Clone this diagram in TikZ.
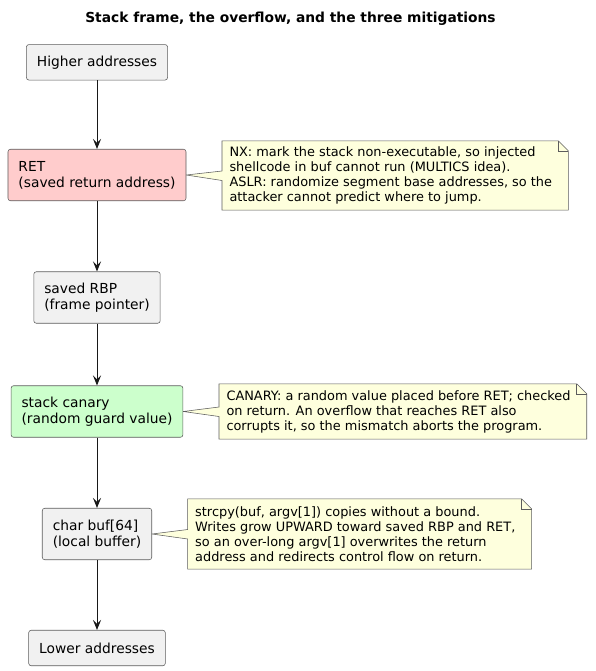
\documentclass[tikz,border=0pt]{standalone}
\usepackage{fontspec}
\setmainfont{DejaVu Sans}
\usetikzlibrary{arrows.meta,calc}
\definecolor{boxfill}{HTML}{F1F1F1}
\definecolor{lineclr}{HTML}{181818}
\definecolor{frameclr}{HTML}{5C5C5C}
\definecolor{retfill}{HTML}{FFCCCC}
\definecolor{canfill}{HTML}{CCFFCC}
\definecolor{notefill}{HTML}{FEFFDD}
\pgfdeclarelayer{background}
\pgfsetlayers{background,main}
\tikzset{
 stackbox/.style={draw=frameclr, line width=0.55pt, rounded corners=2.5pt, fill=boxfill, align=left, inner xsep=10.5pt, inner ysep=0pt, font=\fontsize{13.8}{16}\selectfont},
 onel/.style={minimum height=35.5pt},
 twol/.style={minimum height=51.5pt},
 flow/.style={draw=lineclr, line width=0.9pt, -{Stealth[length=10pt,width=8pt,inset=4pt]}},
 notetext/.style={align=left, inner sep=0pt, anchor=west, font=\fontsize{12.9}{15}\selectfont},
 noteframe/.style={draw=frameclr, line width=0.55pt, fill=notefill, line join=miter},
 foldline/.style={draw=frameclr, line width=0.55pt},
}
\begin{document}
\begin{tikzpicture}[x=1pt,y=-1pt]
\useasboundingbox (0,0) rectangle (595,671);

\node[anchor=base, font=\fontsize{13.8}{16}\selectfont\bfseries] (title) at (290.5,22.7) {Stack frame, the overflow, and the three mitigations};

\node[stackbox, onel] (hi) at (97,62.3) {Higher addresses};
\node[stackbox, twol, fill=retfill] (ret) at (97,175) {RET\\(saved return address)};
\node[stackbox, twol] (rbp) at (97,297.5) {saved RBP\\(frame pointer)};
\node[stackbox, twol, fill=canfill] (can) at (97,411.5) {stack canary\\(random guard value)};
\node[stackbox, twol] (buf) at (97,534) {char buf[64]\\(local buffer)};
\node[stackbox, onel] (lo) at (97,648) {Lower addresses};

\draw[flow] (hi.south) -- (ret.north);
\draw[flow] (ret.south) -- (rbp.north);
\draw[flow] (rbp.south) -- (can.north);
\draw[flow] (can.south) -- (buf.north);
\draw[flow] (buf.south) -- (lo.north);

% note 1
\node[notetext, minimum height=69pt] (nx) at (229.3,175.5) {NX: mark the stack non-executable, so injected\\shellcode in buf cannot run (MULTICS idea).\\ASLR: randomize segment base addresses, so the\\attacker cannot predict where to jump.};
% note 2
\node[notetext, minimum height=55pt] (cn) at (226.3,411.5) {CANARY: a random value placed before RET; checked\\on return. An overflow that reaches RET also\\corrupts it, so the mismatch aborts the program.};
% note 3
\node[notetext, minimum height=70pt] (bn) at (195,534) {strcpy(buf, argv[1]) copies without a bound.\\Writes grow UPWARD toward saved RBP and RET,\\so an over-long argv[1] overwrites the return\\address and redirects control flow on return.};

\begin{pgfonlayer}{background}
\draw[noteframe] ($(nx.north west)+(-7.3,0)$) -- ($(nx.north east)+(6,0)$) -- ($(nx.north east)+(16,10)$) -- ($(nx.south east)+(16,0)$) -- ($(nx.south west)+(-7.3,0)$) -- ($(nx.west)+(-7.3,5)$) -- (ret.east) -- ($(nx.west)+(-7.3,-4.5)$) -- cycle;
\draw[foldline] ($(nx.north east)+(6,0)$) -- ($(nx.north east)+(6,10)$) -- ($(nx.north east)+(16,10)$);

\draw[noteframe] ($(cn.north west)+(-7.3,0)$) -- ($(cn.north east)+(6,0)$) -- ($(cn.north east)+(16,10)$) -- ($(cn.south east)+(16,0)$) -- ($(cn.south west)+(-7.3,0)$) -- ($(cn.west)+(-7.3,5)$) -- (can.east) -- ($(cn.west)+(-7.3,-4.5)$) -- cycle;
\draw[foldline] ($(cn.north east)+(6,0)$) -- ($(cn.north east)+(6,10)$) -- ($(cn.north east)+(16,10)$);

\draw[noteframe] ($(bn.north west)+(-7.3,0)$) -- ($(bn.north east)+(6,0)$) -- ($(bn.north east)+(16,10)$) -- ($(bn.south east)+(16,0)$) -- ($(bn.south west)+(-7.3,0)$) -- ($(bn.west)+(-7.3,5)$) -- (buf.east) -- ($(bn.west)+(-7.3,-4.5)$) -- cycle;
\draw[foldline] ($(bn.north east)+(6,0)$) -- ($(bn.north east)+(6,10)$) -- ($(bn.north east)+(16,10)$);
\end{pgfonlayer}
\end{tikzpicture}
\end{document}
